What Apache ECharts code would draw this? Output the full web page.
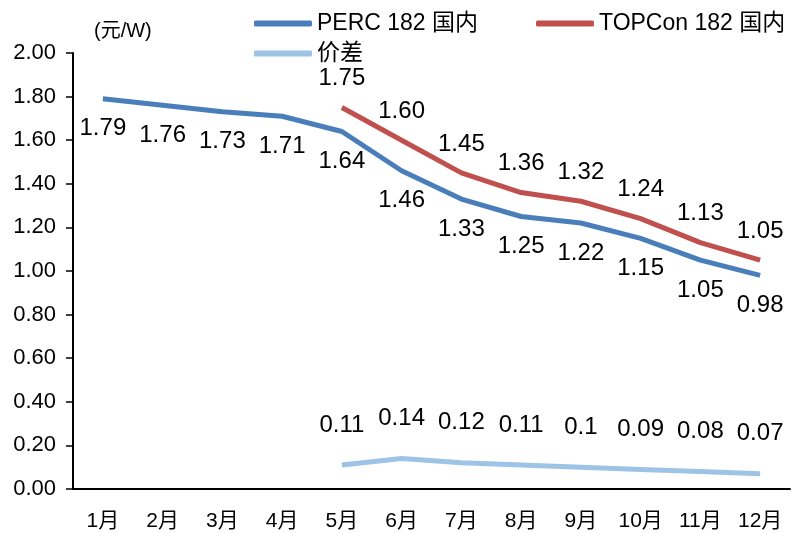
<!DOCTYPE html>
<html>
<head>
<meta charset="utf-8">
<script src="https://cdn.jsdelivr.net/npm/echarts@6/dist/echarts.min.js"></script>
<style>html,body{margin:0;padding:0;background:#fff}#c{width:792px;height:533px}</style>
</head>
<body>
<div id="c"></div>
<script>
const categories = ['1月','2月','3月','4月','5月','6月','7月','8月','9月','10月','11月','12月'];
const perc = [1.79,1.76,1.73,1.71,1.64,1.46,1.33,1.25,1.22,1.15,1.05,0.98];
const topcon = [null,null,null,null,1.75,1.60,1.45,1.36,1.32,1.24,1.13,1.05];
const spread = [null,null,null,null,0.11,0.14,0.12,0.11,0.1,0.09,0.08,0.07];
const seriesNames = ['PERC 182 国内','TOPCon 182 国内','价差'];
const unitLabel = '(元/W)';

const FONT = 'Arial, "Liberation Sans", "Noto Sans CJK SC", sans-serif';
const chart = echarts.init(document.getElementById('c'));
const legendBase = {
  orient: 'horizontal', itemWidth: 58, itemHeight: 6, itemGap: 6, icon: 'roundRect',
  textStyle: {fontFamily: FONT, fontSize: 23, color: '#000'}, selectedMode: false
};
const labelBase = {show: true, fontSize: 24, color: '#000', fontFamily: FONT};
chart.setOption({
  animation: false,
  backgroundColor: '#fff',
  textStyle: {fontFamily: FONT},
  title: {text: unitLabel, left: 89, top: 16, textStyle: {fontFamily: FONT, fontSize: 20, fontWeight: 'normal', color: '#000'}},
  legend: [
    Object.assign({}, legendBase, {data: [seriesNames[0]], left: 249, top: 7}),
    Object.assign({}, legendBase, {data: [seriesNames[1]], left: 531, top: 7}),
    Object.assign({}, legendBase, {data: [seriesNames[2]], left: 249, top: 37})
  ],
  grid: {left: 73, right: 2, top: 53, bottom: 44, containLabel: false},
  xAxis: {
    type: 'category', data: categories, boundaryGap: true,
    axisLine: {lineStyle: {color: '#000', width: 2}},
    axisTick: {inside: true, length: 8, alignWithLabel: false, lineStyle: {color: '#000', width: 1.5}},
    axisLabel: {fontFamily: FONT, fontSize: 21, color: '#000', margin: 22}
  },
  yAxis: {
    type: 'value', min: 0, max: 2, interval: 0.2,
    axisLine: {show: true, lineStyle: {color: '#000', width: 2}},
    axisTick: {show: true, length: 7, lineStyle: {color: '#000', width: 1.5}},
    splitLine: {show: false},
    axisLabel: {fontFamily: FONT, fontSize: 22, color: '#000', margin: 17, formatter: v => v.toFixed(2)}
  },
  series: [
    {name: seriesNames[0], type: 'line', data: perc, symbol: 'circle', symbolSize: 0, showSymbol: true, color: '#4A7EBB',
     lineStyle: {width: 5, color: '#4A7EBB'},
     label: Object.assign({}, labelBase, {position: 'bottom', distance: 18, formatter: p => p.value.toFixed(2)})},
    {name: seriesNames[1], type: 'line', data: topcon, symbol: 'circle', symbolSize: 0, showSymbol: true, color: '#C0504D',
     lineStyle: {width: 5, color: '#C0504D'},
     label: Object.assign({}, labelBase, {position: 'top', distance: 17, formatter: p => p.value.toFixed(2)})},
    {name: seriesNames[2], type: 'line', data: spread, symbol: 'circle', symbolSize: 0, showSymbol: true, color: '#9DC3E6',
     lineStyle: {width: 5, color: '#9DC3E6'},
     label: Object.assign({}, labelBase, {position: 'top', distance: 28, formatter: p => String(p.value)})}
  ]
});
</script>
</body>
</html>
